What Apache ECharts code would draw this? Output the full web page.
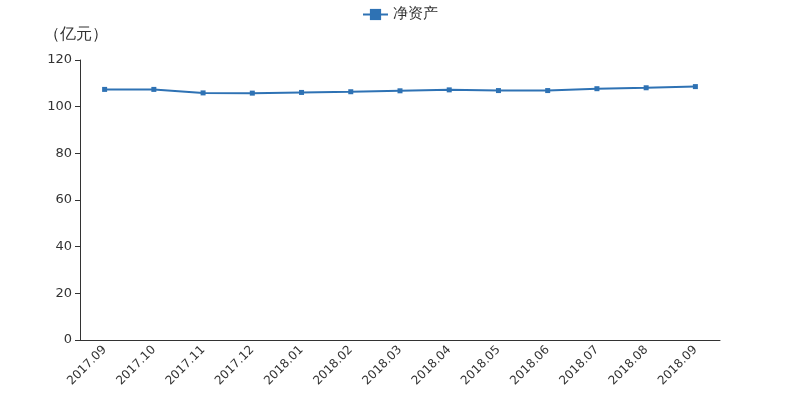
<!DOCTYPE html>
<html><head><meta charset="utf-8">
<script src="https://cdn.jsdelivr.net/npm/echarts@6/dist/echarts.min.js"></script>
<style>html,body{margin:0;padding:0;background:#fff}#c{width:800px;height:400px}</style>
</head><body><div id="c"></div>
<script>
const categories = ['2017.09','2017.10','2017.11','2017.12','2018.01','2018.02','2018.03','2018.04','2018.05','2018.06','2018.07','2018.08','2018.09'];
const netAssets = [107.4,107.4,105.9,105.8,106.1,106.4,106.8,107.2,106.9,106.9,107.7,108.1,108.6];
const seriesName = '净资产';
const yAxisName = '（亿元）';
const chart = echarts.init(document.getElementById('c'));
const font = 'DejaVu Sans';
chart.setOption({
  animation: false,
  textStyle: {fontFamily: font},
  legend: {top: 2, left: 'center', itemWidth: 25, itemHeight: 14, itemGap: 10,
    textStyle: {fontSize: 15, color: '#333', fontFamily: font},
    data: [{name: seriesName}]},
  grid: {left: 80, right: 80, top: 60, bottom: 60},
  xAxis: {type: 'category', data: categories, boundaryGap: true,
    axisLine: {lineStyle: {color: '#333'}},
    axisTick: {lineStyle: {color: '#333'}},
    axisLabel: {rotate: 45, color: '#333', fontSize: 12, fontFamily: font, interval: 0}},
  yAxis: {type: 'value', min: 0, max: 120, interval: 20, name: yAxisName,
    nameTextStyle: {fontSize: 16, color: '#333', fontFamily: font, align: 'center', padding: [0, 8, 0, 0]},
    nameGap: 17,
    axisLine: {show: true, lineStyle: {color: '#333'}},
    axisTick: {show: true, lineStyle: {color: '#333'}},
    splitLine: {show: false},
    axisLabel: {color: '#333', fontSize: 13, fontFamily: font}},
  series: [{name: seriesName, type: 'line', data: netAssets, symbol: 'rect', symbolSize: 5,
    itemStyle: {color: '#2e72b4'}, lineStyle: {width: 2, color: '#2e72b4'}}]
});
</script></body></html>
